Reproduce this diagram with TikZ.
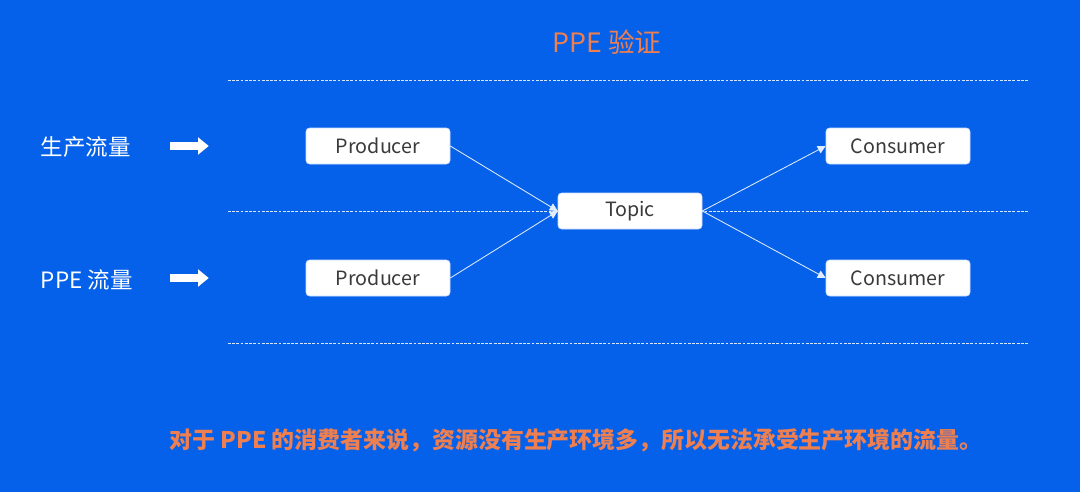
\documentclass[tikz,border=0pt]{standalone}
\usepackage{fontspec}
\setmainfont{Noto Sans CJK SC}
\usepackage{tikz}
\usetikzlibrary{arrows.meta, positioning, calc}
\definecolor{slideblue}{HTML}{0561E9}
\definecolor{titleorange}{HTML}{EE7F50}
\definecolor{boxtext}{HTML}{3A3A3A}
\definecolor{boxedge}{HTML}{C9DCFF}
\tikzset{
    box/.style={rectangle, draw=boxedge, fill=white, rounded corners=2.5pt, minimum width=3.6cm, minimum height=0.9cm, align=center, text=boxtext, font=\fontsize{14}{16}\selectfont},
    sidelabel/.style={anchor=west, text=white, font=\fontsize{16}{19}\selectfont},
    arrow/.style={-{Triangle[length=2mm, width=2mm]}, line width=0.6pt, draw=white!88!slideblue},
    fatarrow/.style={-{Triangle[length=2.7mm, width=4.2mm]}, line width=2.2mm, draw=white},
    sepline/.style={draw=white!85!slideblue, dashed, dash pattern=on 2pt off 1pt, line width=0.6pt}
}

\begin{document}
\begin{tikzpicture}
                \fill[slideblue] (0,0) rectangle (27,-12.3);
                \node[text=titleorange, font=\fontsize{19}{22}\selectfont] (title) at (15.175,-1.05) {PPE 验证};
                % separators
                \draw[sepline] (5.7,-2.0) -- (25.7,-2.0);
                \draw[sepline] (5.7,-5.275) -- (25.7,-5.275);
                \draw[sepline] (5.7,-8.575) -- (25.7,-8.575);
                % flows
                \node[box] (topic) at (15.75,-5.275) {Topic};
                \node[box] (prod1) at (9.45,-3.65) {Producer};
                \node[box] (prod2) at (9.45,-6.95) {Producer};
                \node[box] (cons1) at (22.45,-3.65) {Consumer};
                \node[box] (cons2) at (22.45,-6.95) {Consumer};
                \node[sidelabel] (prodflow) at (0.9,-3.68) {生产流量};
                \node[sidelabel] (ppeflow) at (0.9,-7.0) {PPE 流量};
                \coordinate (fat1s) at (4.25,-3.65);
                \coordinate (fat1e) at (5.22,-3.65);
                \coordinate (fat2s) at (4.25,-6.95);
                \coordinate (fat2e) at (5.22,-6.95);
                \draw[fatarrow] (fat1s) -- (fat1e);
                \draw[fatarrow] (fat2s) -- (fat2e);
                \draw[arrow] (prod1.east) -- (topic.west);
                \draw[arrow] (prod2.east) -- (topic.west);
                \draw[arrow] (topic.east) -- (cons1.west);
                \draw[arrow] (topic.east) -- (cons2.west);
                \node[text=titleorange, font=\fontsize{16.3}{19}\selectfont\bfseries] (note) at (14.4,-11.0) {对于 PPE 的消费者来说，资源没有生产环境多，所以无法承受生产环境的流量。};
            \end{tikzpicture}
\end{document}
